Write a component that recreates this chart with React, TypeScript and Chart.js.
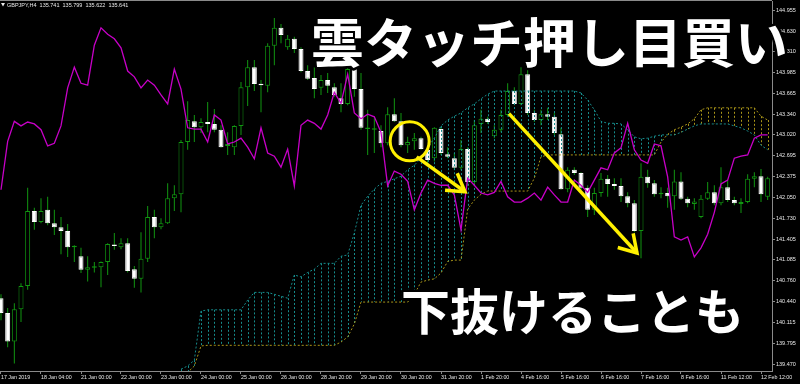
import React, { useEffect, useRef } from "react";
import { Chart, registerables } from "chart.js";

Chart.register(...registerables);

// ---- GBPJPY H4 candles (one per bar, left to right) ----
const open = [
  140.49, 140.26, 139.82, 140.32, 140.68, 141.84, 141.67, 141.86, 141.65, 141.59,
  141.53, 141.28, 141.14, 140.93, 140.96, 140.97, 141.05, 141.31, 141.28, 141.34,
  140.94, 140.79, 141.10, 141.75, 141.59, 141.65, 142.04, 142.10, 142.91, 143.23,
  143.14, 143.22, 143.19, 143.10, 142.85, 142.83, 143.16, 143.76, 144.07, 143.81,
  143.78, 144.40, 144.68, 144.38, 144.51, 144.35, 144.01, 143.90, 143.75, 143.87,
  143.76, 143.59, 143.50, 144.04, 143.73, 143.11, 143.10, 143.08, 142.89, 143.34,
  143.23, 142.86, 142.92, 142.97, 142.79, 142.66, 143.11, 142.72, 142.66, 142.51,
  142.80, 142.29, 143.19, 143.27, 143.00, 143.10, 143.33, 143.70, 143.50, 143.96,
  143.36, 143.25, 143.34, 143.30, 143.03, 142.18, 142.48, 142.43, 142.20, 141.86,
  142.12, 142.34, 142.26, 142.23, 142.07, 141.96, 141.53, 142.37, 142.27, 142.10,
  142.12, 142.07, 142.30, 142.03, 141.95, 141.75, 142.03, 142.13, 141.96, 142.21,
  142.01, 141.95, 141.98, 142.34, 142.38, 142.06,
];
const high = [
  140.55, 140.34, 140.41, 140.72, 142.20, 141.89, 142.04, 142.06, 141.86, 141.75,
  141.64, 141.31, 141.27, 141.14, 141.05, 141.06, 141.34, 141.50, 141.42, 141.42,
  140.99, 141.51, 141.92, 141.86, 141.73, 142.27, 142.24, 142.94, 143.54, 143.33,
  143.28, 143.53, 143.42, 143.17, 143.06, 143.17, 143.84, 144.18, 144.18, 143.87,
  144.44, 144.83, 144.74, 144.57, 144.54, 144.38, 144.10, 144.07, 143.95, 143.98,
  143.82, 143.82, 144.06, 144.10, 143.98, 143.41, 143.28, 143.17, 143.45, 143.59,
  143.36, 142.99, 143.05, 142.99, 142.86, 143.14, 143.14, 142.83, 142.74, 142.94,
  142.83, 143.25, 143.41, 143.30, 143.17, 143.41, 143.82, 143.76, 144.07, 144.06,
  143.41, 143.41, 143.44, 143.36, 143.13, 142.52, 142.52, 142.44, 142.24, 142.20,
  142.43, 142.40, 142.35, 142.35, 142.13, 142.01, 142.58, 142.48, 142.32, 142.21,
  142.20, 142.48, 142.44, 142.06, 142.04, 142.09, 142.29, 142.24, 142.52, 142.32,
  142.06, 142.04, 142.41, 142.44, 142.49, 142.37,
];
const low = [
  140.15, 139.73, 139.48, 140.12, 140.62, 141.55, 141.65, 141.62, 141.47, 141.17,
  141.13, 141.05, 140.88, 140.75, 140.89, 140.66, 140.85, 141.24, 141.25, 140.89,
  140.65, 140.58, 141.05, 141.42, 141.56, 141.64, 141.84, 141.82, 142.79, 142.91,
  143.05, 143.06, 143.06, 142.82, 142.71, 142.71, 143.02, 143.47, 143.70, 143.37,
  143.68, 144.10, 144.44, 144.34, 144.29, 143.99, 143.87, 143.59, 143.64, 143.67,
  143.61, 143.37, 143.48, 143.61, 143.10, 142.71, 142.74, 142.83, 142.86, 143.22,
  142.83, 142.74, 142.79, 142.79, 142.58, 142.61, 142.71, 142.66, 142.48, 142.48,
  142.23, 142.23, 143.05, 143.19, 142.97, 143.06, 143.30, 143.48, 143.48, 143.33,
  143.22, 143.17, 143.25, 143.02, 142.17, 142.13, 142.40, 142.17, 141.75, 141.78,
  142.06, 142.06, 142.17, 141.98, 141.90, 141.51, 141.11, 142.20, 142.06, 142.04,
  141.89, 141.86, 142.01, 141.90, 141.86, 141.73, 142.01, 141.93, 141.93, 141.98,
  141.93, 141.81, 141.96, 142.21, 141.98, 142.01,
];
const close = [
  140.26, 139.82, 140.32, 140.68, 141.84, 141.67, 141.84, 141.65, 141.59, 141.53,
  141.28, 141.30, 140.93, 140.97, 140.97, 141.05, 141.33, 141.30, 141.34, 140.91,
  140.79, 141.10, 141.75, 141.59, 141.65, 142.04, 142.10, 142.91, 143.25, 143.14,
  143.22, 143.19, 143.10, 142.83, 142.88, 143.16, 143.76, 144.07, 143.81, 143.79,
  144.40, 144.68, 144.57, 144.51, 144.35, 144.01, 143.89, 143.73, 143.87, 143.78,
  143.64, 143.50, 144.04, 143.73, 143.13, 143.13, 143.11, 142.89, 143.34, 143.23,
  142.86, 142.91, 142.97, 142.80, 142.63, 143.13, 142.74, 142.68, 142.51, 142.80,
  142.29, 143.17, 143.27, 143.22, 143.10, 143.33, 143.70, 143.50, 143.96, 143.36,
  143.25, 143.34, 143.30, 143.05, 142.18, 142.48, 142.43, 142.20, 141.86, 142.12,
  142.34, 142.26, 142.23, 142.07, 141.96, 141.53, 142.37, 142.27, 142.10, 142.12,
  142.07, 142.30, 142.03, 141.96, 141.99, 142.03, 142.13, 141.96, 142.21, 142.01,
  141.96, 141.98, 142.34, 142.38, 142.10, 142.35,
];

// ---- Ichimoku cloud (Senkou Span A = teal, Senkou Span B = gold) ----
const spanA = [
  null, null, null, null, null, null, null, null, null,
  null, null, null, null, null, null, null, null, null,
  null, null, null, null, null, null, null, null, null,
  139.39, 139.44, 139.53,
  140.29, 140.31, 140.31, 140.31, 140.31, 140.31, 140.31, 140.46, 140.58, 140.58,
  140.58, 140.55, 140.52, 140.49, 140.85, 140.82, 140.89, 140.94, 141.03, 141.03,
  141.03, 141.14, 141.16, 141.50, 141.93, 142.07, 142.18, 142.27, 142.30, 142.34,
  142.38, 142.48, 142.55, 142.66, 142.82, 142.97, 143.16, 143.25, 143.31, 143.36,
  143.44, 143.50, 143.58, 143.65, 143.70, 143.70, 143.70, 143.70, 143.70, 143.70,
  143.70, 143.70, 143.70, 143.70, 143.70, 143.70, 143.70, 143.67, 143.56, 143.41,
  143.23, 143.20, 143.20, 143.19, 143.10, 142.99, 142.96, 142.97, 143.00, 143.02,
  143.02, 143.02, 143.06, 143.11, 143.16, 143.19, 143.19, 143.19, 143.19, 143.19,
  143.16, 143.13, 143.08, 143.02, 142.86, 142.79,
];
const spanB = [
  null, null, null, null, null, null, null, null, null,
  null, null, null, null, null, null, null, null, null,
  null, null, null, null, null, null, null, null, null,
  139.25, 139.34, 139.44,
  139.75, 139.76, 139.76, 139.76, 139.76, 139.76, 139.76, 139.76, 139.76, 139.76,
  139.76, 139.76, 139.76, 139.76, 139.76, 139.76, 139.76, 139.76, 139.76, 139.76,
  139.76, 139.81, 139.89, 140.09, 140.43, 140.43, 140.43, 140.43, 140.43, 140.43,
  140.43, 140.43, 140.55, 140.74, 140.77, 140.79, 140.88, 141.06, 141.08, 141.08,
  141.87, 142.01, 142.10, 142.15, 142.15, 142.15, 142.15, 142.15, 142.15, 142.15,
  142.35, 142.68, 142.71, 142.71, 142.71, 142.71, 142.71, 142.71, 142.71, 142.71,
  142.71, 142.71, 142.71, 142.71, 142.71, 142.71, 142.71, 142.71, 142.71, 142.91,
  143.03, 143.10, 143.14, 143.19, 143.27, 143.41, 143.44, 143.44, 143.44, 143.44,
  143.44, 143.44, 143.44, 143.44, 143.31, 143.25,
];

// ---- magenta line ----
const magentaLine = [
  142.17, 142.92, 143.23, 143.16, 143.22, 143.19, 143.10, 142.85, 142.89, 143.16,
  143.75, 144.07, 143.82, 143.79, 144.41, 144.68, 144.58, 144.51, 144.37, 144.01,
  143.92, 143.75, 143.87, 143.79, 143.64, 143.50, 144.04, 143.73, 143.13, 143.11,
  143.11, 142.91, 143.33, 143.25, 142.88, 142.91, 142.97, 142.83, 142.65, 143.13,
  142.74, 142.69, 142.52, 142.80, 142.23, 143.17, 143.25, 143.20, 143.11, 143.33,
  143.68, 143.51, 143.96, 143.36, 143.27, 143.34, 143.30, 143.06, 142.23, 142.46,
  142.41, 142.30, 141.86, 142.12, 142.32, 142.27, 142.24, 142.24, 142.09, 141.55,
  142.35, 142.24, 142.12, 142.09, 142.13, 142.30, 142.06, 141.98, 141.98, 142.04,
  142.12, 142.01, 142.21, 142.09, 141.98, 141.98, 142.32, 142.24, 142.13, 142.32,
  142.51, 142.48, 142.74, 142.82, 143.20, 142.79, 142.63, 142.58, 142.88, 142.85,
  142.37, 141.44, 141.39, 141.44, 141.13, 141.27, 141.48, 141.82, 142.26, 142.32,
  142.66, 142.69, 142.71, 142.97, 143.02, 143.02,
];

// ---- axes ----
const xTickBars = [0, 6, 12, 18, 24, 30, 36, 42, 48, 54, 60, 66, 72, 78, 84, 90, 96, 102, 108, 114];
const xTickLabels = [
  "17 Jan 2019", "18 Jan 04:00", "21 Jan 00:00", "22 Jan 00:00", "23 Jan 00:00",
  "24 Jan 00:00", "25 Jan 00:00", "26 Jan 00:00", "28 Jan 20:00", "29 Jan 20:00",
  "30 Jan 20:00", "31 Jan 20:00", "1 Feb 20:00", "4 Feb 16:00", "5 Feb 16:00",
  "6 Feb 16:00", "7 Feb 16:00", "8 Feb 16:00", "11 Feb 12:00", "12 Feb 12:00",
];
const yTickValues = [
  144.955, 144.63, 144.31, 143.985, 143.665, 143.34, 143.02, 142.695, 142.375,
  142.05, 141.73, 141.405, 141.085, 140.76, 140.44, 140.115, 139.795, 139.47,
];

const headerText = "GBPJPY,H4  135.741  135.799  135.622  135.641";
const headline = "雲タッチ押し目買い";
const subline = "下抜けることも";

// annotation anchors in data units (bar index, price)
const circleAt = { x: 61.3, y: 142.92 };
const arrows = [
  { from: { x: 62.35, y: 142.68 }, to: { x: 69.6, y: 142.14 } },
  { from: { x: 76.2, y: 143.35 }, to: { x: 95.4, y: 141.19 } },
];

const GREEN = "#119611";
const TEAL = "#168c8c";
const GOLD = "#a89418";
const MAGENTA = "#c800c8";
const YELLOW = "#fff000";
const AXIS = "#8a8a8a";
const LABEL = "#e8e8e8";
const SMALL_FONT = '"Liberation Sans", Arial, sans-serif';

export default function App() {
  const ref = useRef<HTMLCanvasElement>(null);

  useEffect(() => {
    document.body.style.margin = "0";
    document.body.style.background = "#000";
    const canvas = ref.current;
    if (!canvas) return;

    const idx = open.map((_, i) => i);
    const bull = idx.map((i) => close[i] >= open[i]);

    const bgPlugin = {
      id: "bg",
      beforeDraw(chart: any) {
        const { ctx, width, height } = chart;
        ctx.save();
        ctx.fillStyle = "#000";
        ctx.fillRect(0, 0, width, height);
        ctx.restore();
      },
    };

    const hatchPlugin = {
      id: "hatch",
      afterDatasetDraw(chart: any, args: any) {
        if (args.index !== 1) return;
        const { ctx, chartArea } = chart;
        const xs = chart.scales.x;
        const ys = chart.scales.y;
        ctx.save();
        ctx.beginPath();
        ctx.rect(chartArea.left, chartArea.top, chartArea.right - chartArea.left, chartArea.bottom - chartArea.top);
        ctx.clip();
        ctx.lineWidth = 1;
        ctx.setLineDash([2, 2]);
        idx.forEach((i) => {
          const a = spanA[i];
          const b = spanB[i];
          if (a == null || b == null) return;
          const x = Math.round(xs.getPixelForValue(i)) + 0.5;
          const ya = ys.getPixelForValue(a);
          const yb = ys.getPixelForValue(b);
          ctx.strokeStyle = a >= b ? TEAL : GOLD;
          ctx.beginPath();
          ctx.moveTo(x, Math.min(ya, yb));
          ctx.lineTo(x, Math.max(ya, yb));
          ctx.stroke();
        });
        ctx.restore();
      },
    };

    const overlayPlugin = {
      id: "overlay",
      afterDraw(chart: any) {
        const { ctx, chartArea } = chart;
        const xs = chart.scales.x;
        const ys = chart.scales.y;
        ctx.save();
        // top frame line
        ctx.strokeStyle = AXIS;
        ctx.lineWidth = 1;
        ctx.beginPath();
        ctx.moveTo(0, 0.5);
        ctx.lineTo(chartArea.right, 0.5);
        ctx.stroke();

        // symbol header
        ctx.fillStyle = LABEL;
        ctx.beginPath();
        ctx.moveTo(1, 3);
        ctx.lineTo(5, 3);
        ctx.lineTo(3, 6.5);
        ctx.closePath();
        ctx.fill();
        ctx.font = `5.5px ${SMALL_FONT}`;
        ctx.textBaseline = "middle";
        ctx.textAlign = "left";
        ctx.fillText(headerText, 7, 5);

        // yellow annotations
        ctx.strokeStyle = YELLOW;
        ctx.lineWidth = 3;
        ctx.beginPath();
        ctx.arc(xs.getPixelForValue(circleAt.x), ys.getPixelForValue(circleAt.y), 19.5, 0, Math.PI * 2);
        ctx.stroke();

        ctx.lineWidth = 3.5;
        ctx.lineCap = "butt";
        ctx.lineJoin = "miter";
        arrows.forEach((a) => {
          const x1 = xs.getPixelForValue(a.from.x);
          const y1 = ys.getPixelForValue(a.from.y);
          const x2 = xs.getPixelForValue(a.to.x);
          const y2 = ys.getPixelForValue(a.to.y);
          const ang = Math.atan2(y2 - y1, x2 - x1);
          ctx.beginPath();
          ctx.moveTo(x1, y1);
          ctx.lineTo(x2, y2);
          ctx.stroke();
          const L = 20;
          const spread = 0.55;
          ctx.beginPath();
          ctx.moveTo(x2 + L * Math.cos(ang + Math.PI - spread), y2 + L * Math.sin(ang + Math.PI - spread));
          ctx.lineTo(x2, y2);
          ctx.lineTo(x2 + L * Math.cos(ang + Math.PI + spread), y2 + L * Math.sin(ang + Math.PI + spread));
          ctx.stroke();
        });

        // big captions
        ctx.textBaseline = "alphabetic";
        ctx.lineJoin = "round";
        ctx.strokeStyle = "#000";
        ctx.fillStyle = "#fff";
        ctx.lineWidth = 5;
        ctx.font = 'bold 53px "Noto Sans CJK JP", sans-serif';
        ctx.strokeText(headline, 311, 63);
        ctx.fillText(headline, 311, 63);
        ctx.font = 'bold 49px "Noto Sans CJK JP", sans-serif';
        ctx.strokeText(subline, 401, 330);
        ctx.fillText(subline, 401, 330);
        ctx.restore();
      },
    };

    const chart = new Chart(canvas, {
      type: "bar",
      data: {
        datasets: [
          {
            type: "bar",
            label: "wick",
            data: idx.map((i) => ({ x: i, y: [low[i], high[i]] })) as any,
            backgroundColor: GREEN,
            borderWidth: 0,
            barThickness: 1,
            grouped: false,
            inflateAmount: 0,
            minBarLength: 1,
            order: 5,
          } as any,
          {
            type: "bar",
            label: "body",
            data: idx.map((i) => ({ x: i, y: [open[i], close[i]] })) as any,
            backgroundColor: idx.map((i) => (bull[i] ? "#000" : "#fff")),
            borderColor: idx.map((i) => (bull[i] ? GREEN : "#fff")),
            borderWidth: 1,
            borderSkipped: false,
            barThickness: 5,
            grouped: false,
            inflateAmount: 0,
            minBarLength: 1.5,
            order: 4,
          } as any,
          {
            type: "line",
            label: "Senkou Span A",
            data: idx.map((i) => ({ x: i, y: spanA[i] })) as any,
            borderColor: TEAL,
            borderWidth: 1,
            borderDash: [2, 2],
            pointRadius: 0,
            tension: 0,
            spanGaps: false,
            order: 3,
          } as any,
          {
            type: "line",
            label: "Senkou Span B",
            data: idx.map((i) => ({ x: i, y: spanB[i] })) as any,
            borderColor: GOLD,
            borderWidth: 1,
            borderDash: [2, 2],
            pointRadius: 0,
            tension: 0,
            spanGaps: false,
            order: 3,
          } as any,
          {
            type: "line",
            label: "line",
            data: idx.map((i) => ({ x: i, y: magentaLine[i] })) as any,
            borderColor: MAGENTA,
            borderWidth: 1.3,
            pointRadius: 0,
            tension: 0,
            order: 1,
          } as any,
        ],
      },
      options: {
        responsive: false,
        animation: false,
        events: [],
        layout: { padding: { top: 1, left: 0, right: 0, bottom: 0 }, autoPadding: false } as any,
        plugins: {
          legend: { display: false },
          tooltip: { enabled: false },
          title: { display: false },
        },
        scales: {
          x: {
            type: "linear",
            min: -0.15,
            max: 115.65,
            offset: false,
            grid: { offset: false, drawOnChartArea: false, drawTicks: true, tickLength: 3, color: AXIS },
            border: { display: true, color: AXIS, width: 1 },
            ticks: {
              autoSkip: false,
              maxRotation: 0,
              minRotation: 0,
              align: "start",
              padding: 0,
              color: LABEL,
              font: { family: SMALL_FONT, size: 5.3 },
              callback: (_v: any, i: number) => xTickLabels[i],
            },
            afterBuildTicks: (s: any) => {
              s.ticks = xTickBars.map((v) => ({ value: v }));
            },
            afterFit: (s: any) => {
              s.height = 13;
              s.paddingLeft = 0;
              s.paddingRight = 0;
            },
          } as any,
          y: {
            type: "linear",
            position: "right",
            min: 139.362,
            max: 145.095,
            grid: { drawOnChartArea: false, drawTicks: true, tickLength: 3, color: AXIS },
            border: { display: true, color: AXIS, width: 1 },
            ticks: {
              padding: 1,
              color: LABEL,
              font: { family: SMALL_FONT, size: 5.5 },
              callback: (v: any) => Number(v).toFixed(3),
            },
            afterBuildTicks: (s: any) => {
              s.ticks = yTickValues.map((v) => ({ value: v }));
            },
            afterFit: (s: any) => {
              s.width = 28;
              s.paddingTop = 0;
              s.paddingBottom = 0;
            },
          } as any,
        },
      },
      plugins: [bgPlugin, hatchPlugin, overlayPlugin],
    });

    return () => chart.destroy();
  }, []);

  return (
    <div style={{ width: 800, height: 384, background: "#000" }}>
      <canvas ref={ref} width={800} height={384} style={{ display: "block" }} />
    </div>
  );
}
